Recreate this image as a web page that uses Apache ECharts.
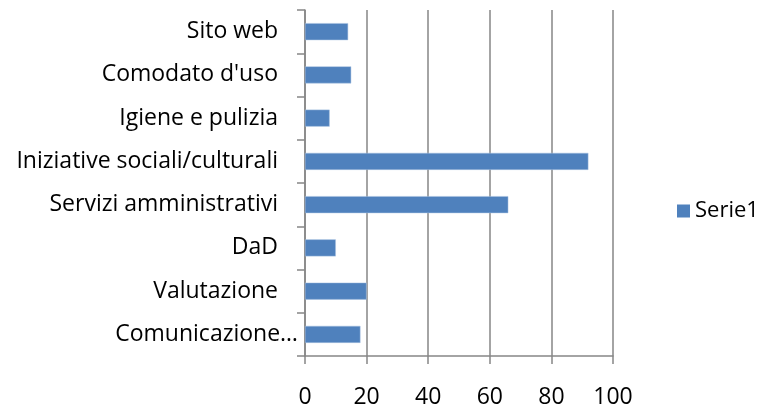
<!DOCTYPE html>
<html>
<head>
<meta charset="utf-8">
<script src="https://cdn.jsdelivr.net/npm/echarts@6/dist/echarts.min.js"></script>
<style>
  html, body { margin: 0; padding: 0; background: #fff; }
  #main { width: 767px; height: 412px; }
</style>
</head>
<body>
<div id="main"></div>
<script>
// categories bottom -> top
var categories = ['Comunicazione…', 'Valutazione', 'DaD', 'Servizi amministrativi',
    'Iniziative sociali/culturali', 'Igiene e pulizia', "Comodato d'uso", 'Sito web'];
var serie1 = [18, 20, 10, 66, 92, 8, 15, 14];
var xTicks = [0, 20, 40, 60, 80, 100];

var font = 'Open Sans';
var grigio = '#868686';

var chart = echarts.init(document.getElementById('main'));

chart.setOption({
    animation: false,
    textStyle: { fontFamily: font },
    grid: { left: 305, right: 154, top: 10, bottom: 56 },
    legend: {
        data: ['Serie1'],
        orient: 'vertical',
        left: 672,
        top: 195,
        icon: 'rect',
        itemWidth: 13,
        itemHeight: 13,
        itemGap: 6,
        itemStyle: { borderWidth: 0 },
        textStyle: { fontSize: 22, color: '#000', fontFamily: font }
    },
    xAxis: {
        type: 'value',
        min: xTicks[0],
        max: xTicks[xTicks.length - 1],
        interval: 20,
        axisLine: { show: true, lineStyle: { color: grigio, width: 1.5 } },
        axisTick: { show: true, length: 8, lineStyle: { color: grigio, width: 1.5 } },
        splitLine: { show: true, lineStyle: { color: grigio, width: 1.5 } },
        axisLabel: { margin: 30, fontSize: 23, color: '#000', fontFamily: font }
    },
    yAxis: {
        type: 'category',
        data: categories,
        axisLine: { show: true, lineStyle: { color: grigio, width: 1.5 } },
        axisTick: { show: true, length: 8, lineStyle: { color: grigio, width: 1.5 } },
        axisLabel: {
            margin: 7,
            color: '#000',
            fontSize: 23,
            fontFamily: font,
            formatter: function (v) {
                return v.indexOf('…') >= 0 ? '{q|' + v + '}' : '{p|' + v + '}';
            },
            rich: {
                p: { fontSize: 23, color: '#000', fontFamily: font, padding: [0, 20, 0, 0] },
                q: { fontSize: 23, color: '#000', fontFamily: font }
            }
        }
    },
    series: [{
        name: 'Serie1',
        type: 'bar',
        data: serie1,
        barWidth: 17,
        itemStyle: { color: '#4f81bd', borderColor: '#a9c1e0', borderWidth: 0.5 }
    }]
});
</script>
</body>
</html>
